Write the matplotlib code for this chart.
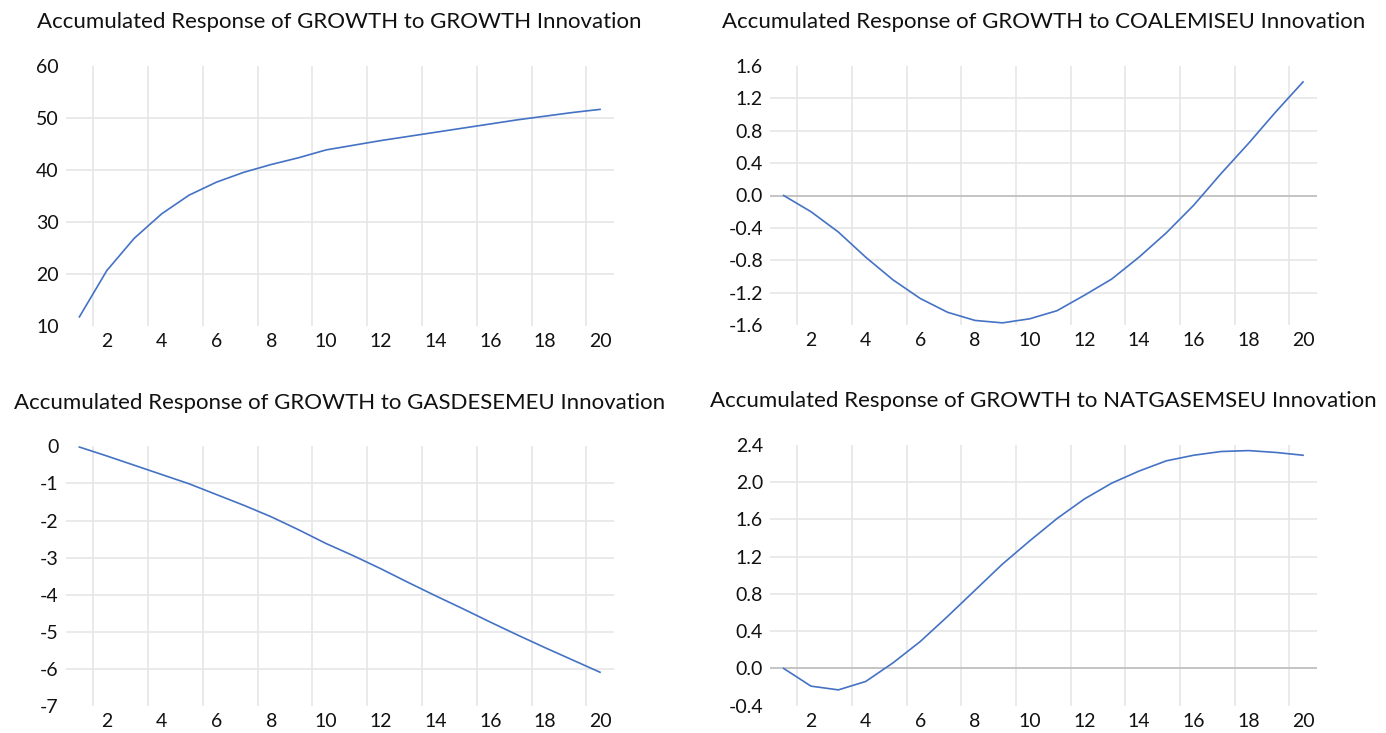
"""
Accumulated impulse responses of GROWTH (four panels, EViews/Excel style)
"""

import matplotlib
matplotlib.use('Agg')
import matplotlib.pyplot as plt
import numpy as np

plt.rcParams['font.family'] = ['Lato', 'DejaVu Sans']

periods = list(range(1, 21))

growth_to_growth = [11.7, 20.6, 26.8, 31.5, 35.1, 37.6, 39.5, 41.0, 42.3, 43.8,
                    44.7, 45.6, 46.4, 47.2, 48.0, 48.8, 49.6, 50.3, 51.0, 51.6]
growth_to_coal = [0.00, -0.20, -0.45, -0.76, -1.04, -1.27, -1.44, -1.54, -1.57, -1.52,
                  -1.42, -1.23, -1.03, -0.76, -0.46, -0.12, 0.27, 0.64, 1.03, 1.40]
growth_to_gasdes = [-0.02, -0.26, -0.51, -0.76, -1.01, -1.30, -1.59, -1.90, -2.25, -2.62,
                    -2.95, -3.30, -3.67, -4.03, -4.38, -4.74, -5.09, -5.43, -5.76, -6.09]
growth_to_natgas = [0.00, -0.19, -0.23, -0.14, 0.06, 0.29, 0.56, 0.84, 1.12, 1.37,
                    1.61, 1.82, 1.99, 2.12, 2.23, 2.29, 2.33, 2.34, 2.32, 2.29]

titles = ['Accumulated Response of GROWTH to GROWTH Innovation',
          'Accumulated Response of GROWTH to COALEMISEU Innovation',
          'Accumulated Response of GROWTH to GASDESEMEU Innovation',
          'Accumulated Response of GROWTH to NATGASEMSEU Innovation']

y_ticks = [[10, 20, 30, 40, 50, 60],
           [-1.6, -1.2, -0.8, -0.4, 0.0, 0.4, 0.8, 1.2, 1.6],
           [-7, -6, -5, -4, -3, -2, -1, 0],
           [-0.4, 0.0, 0.4, 0.8, 1.2, 1.6, 2.0, 2.4]]
y_fmt = ['{:.0f}', '{:.1f}', '{:.0f}', '{:.1f}']

series = [growth_to_growth, growth_to_coal, growth_to_gasdes, growth_to_natgas]

W, H = 1386, 733
fig = plt.figure(figsize=(W / 100, H / 100), dpi=100)

# axes rectangles in pixels: left, top, right, bottom
rects = [(65.7, 65.7, 613.7, 325.7),
         (770.0, 65.7, 1316.7, 325.3),
         (65.7, 446.3, 613.7, 706.0),
         (770.0, 445.0, 1316.7, 705.7)]

line_color = '#4472C4'
grid_color = '#e6e6e6'

for i in range(4):
    l, t, r, b = rects[i]
    ax = fig.add_axes([l / W, 1 - b / H, (r - l) / W, (b - t) / H])

    yt = y_ticks[i]
    ax.set_xlim(0.5, 20.5)
    ax.set_ylim(yt[0], yt[-1])

    # grid: vertical lines between categories, horizontal at interior ticks
    ax.set_xticks(range(2, 21, 2))
    ax.set_yticks(yt)
    ax.set_yticklabels([y_fmt[i].format(v) for v in yt])
    ax.grid(False)
    for xv in np.arange(1.5, 20, 2):
        ax.axvline(xv, color=grid_color, lw=1.2, zorder=1)
    for yv in yt[1:-1]:
        if abs(yv) < 1e-9:
            ax.axhline(yv, color='#bfbfbf', lw=1.3, zorder=1.5)
        else:
            ax.axhline(yv, color=grid_color, lw=1.2, zorder=1)

    ax.plot(periods, series[i], color=line_color, lw=1.2, zorder=3)

    for s in ax.spines.values():
        s.set_visible(False)
    ax.tick_params(axis='both', which='both', length=0, labelsize=14, colors='#111111')
    ax.tick_params(axis='x', pad=5)
    ax.tick_params(axis='y', pad=5)

    ax.text(0.5, 1.168, titles[i], transform=ax.transAxes, ha='center', va='center',
            fontsize=16, color='#111111')

plt.savefig('out.png', dpi=100)
